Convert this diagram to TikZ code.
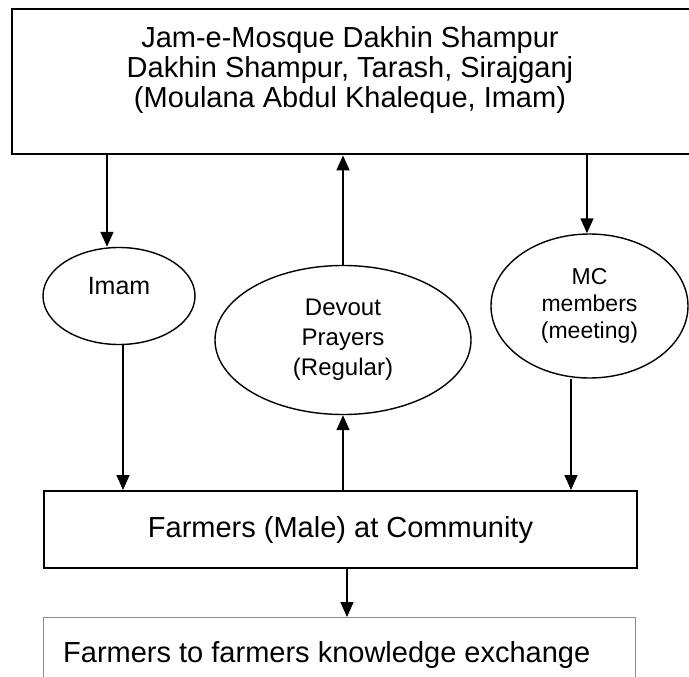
\documentclass[tikz,border=0pt]{standalone}
\usepackage{fontspec}
\setmainfont{Liberation Sans}
\usepackage{xcolor}
\usetikzlibrary{arrows.meta,positioning,shapes.geometric}
\definecolor{inkline}{HTML}{000000}
\definecolor{softline}{HTML}{8A8A8A}
\tikzset{
  framebox/.style={draw=inkline,rectangle,line width=2pt,inner sep=0pt},
  oval/.style={draw=inkline,ellipse,line width=1.4pt,inner sep=0pt,
               align=center},
  flow/.style={-{Triangle[length=15pt,width=13pt]},line width=1.5pt,inkline},
  bigtext/.style={font=\fontsize{29}{30}\selectfont},
  midtext/.style={font=\fontsize{24}{30}\selectfont},
  smalltext/.style={font=\fontsize{23}{27}\selectfont},
}

\begin{document}
\begin{tikzpicture}[x=1pt,y=-1pt]
  \clip (0,0) rectangle (689,677);
  % Mosque box on top, running past the right edge
  \node[framebox,line width=2.4pt,minimum width=684pt,minimum height=145pt,
        anchor=north west](mosque)at(11,8){};
  \node[bigtext,align=center](mosquetext)at(350,70){%
    Jam-e-Mosque Dakhin Shampur\\
    Dakhin Shampur, Tarash, Sirajganj\\
    (Moulana Abdul Khaleque, Imam)};

  % the three channels
  \node[oval,midtext,font=\fontsize{25}{30}\selectfont,
        minimum width=152pt,minimum height=97pt](imam)at(119,296){%
    \raisebox{10pt}[\height][\depth]{Imam}};
  \node[oval,midtext,minimum width=256pt,minimum height=149pt](devout)
    at(343,340){Devout\\Prayers\\(Regular)};
  \node[oval,smalltext,minimum width=197pt,minimum height=144pt](mc)
    at(589.5,306){MC\\members\\(meeting)};

  % Farmers box
  \node[framebox,bigtext,minimum width=593pt,minimum height=77pt](farmers)
    at(340.5,529.5){Farmers (Male) at Community};

  % Exchange box, cut off at the bottom
  \node[draw=softline,line width=1.2pt,rectangle,inner sep=0pt,
        minimum width=592pt,minimum height=100pt,
        anchor=north west](exchange)at(43,617){};
  \node[bigtext,anchor=west,inner sep=0pt](exchangetext)at(63,655){%
    Farmers to farmers knowledge exchange};

  % connectors
  \draw[flow]([xshift=-12pt]imam.north |- mosque.south)
    --([xshift=-12pt]imam.north);
  \draw[flow]([xshift=4pt]imam.south)
    --([xshift=4pt]imam.south |- farmers.north);
  \draw[flow](devout.south |- farmers.north)--(devout.south);
  \draw[flow](devout.north)--(devout.north |- mosque.south);
  \draw[flow]([xshift=-2.5pt]mc.north |- mosque.south)
    --([xshift=-2.5pt]mc.north);
  \draw[flow]([xshift=-18.5pt]mc.south)
    --([xshift=-18.5pt]mc.south |- farmers.north);
  \draw[flow]([xshift=6.5pt]farmers.south)
    --([xshift=6.5pt]farmers.south |- exchange.north);
\end{tikzpicture}
\end{document}
